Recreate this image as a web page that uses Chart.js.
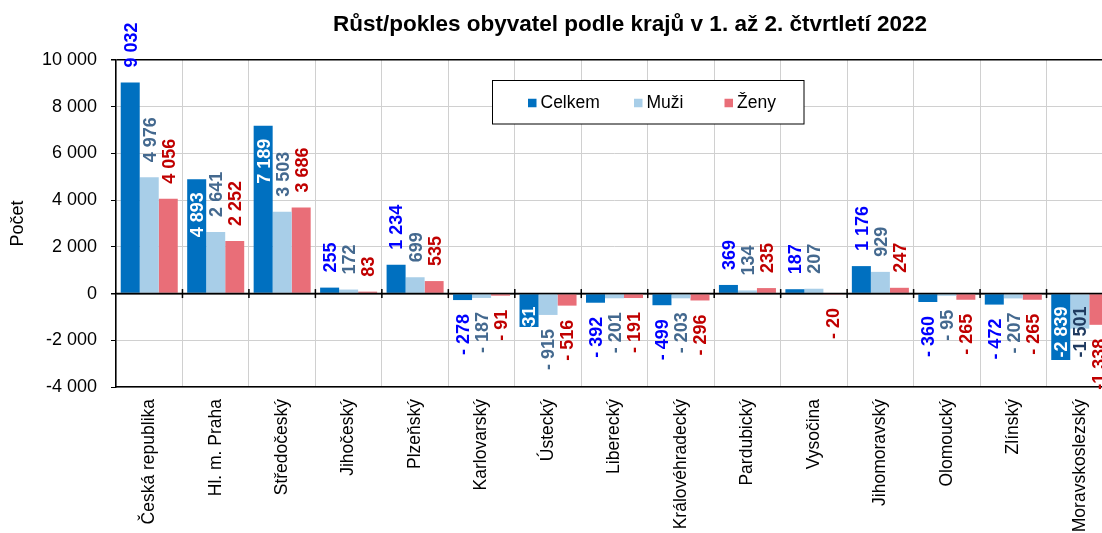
<!DOCTYPE html>
<html><head><meta charset="utf-8">
<script src="https://cdn.jsdelivr.net/npm/chart.js@4.4.1/dist/chart.umd.min.js"></script>
<style>
html,body{margin:0;padding:0;overflow:hidden;background:#fff;width:1102px;height:533px}
#wrap{position:absolute;left:0;top:0;width:1113px;height:533px}
</style>
</head><body>
<div id="wrap"><canvas id="c" width="1113" height="533"></canvas></div>
<script>
const categories = ["Česká republika","Hl. m. Praha","Středočeský","Jihočeský","Plzeňský","Karlovarský","Ústecký","Liberecký","Královéhradecký","Pardubický","Vysočina","Jihomoravský","Olomoucký","Zlínský","Moravskoslezský"];
const celkem = [9032,4893,7189,255,1234,-278,-1431,-392,-499,369,187,1176,-360,-472,-2839];
const muzi   = [4976,2641,3503,172,699,-187,-915,-201,-203,134,207,929,-95,-207,-1501];
const zeny   = [4056,2252,3686,83,535,-91,-516,-191,-296,235,-20,247,-265,-265,-1338];
const seriesNames = ["Celkem","Muži","Ženy"];
const yMin = -4000, yMax = 10000, yStep = 2000;
const titleText = "Růst/pokles obyvatel podle krajů v 1. až 2. čtvrtletí 2022";
const yTitle = "Počet";

const FONT = '"Liberation Sans", Arial, sans-serif';

// label placement overrides: datasetIndex-dataIndex
const labelModes = {"0-1":"insideEnd","0-2":"insideEnd","0-6":"insideBase","0-14":"insideBase","1-14":"insideBase"};
const labelColorOverride = {"1-14":"#1F3A60"};

function group(a){ return String(a).replace(/\B(?=(\d{3})+(?!\d))/g,' '); }
function fmtLabel(v){
  const a = Math.abs(v), s = group(a);
  if (v < 0) return a < 1000 ? '- ' + s : '-' + s;
  return s;
}
function fmtTick(v){ return (v < 0 ? '-' : '') + group(Math.abs(v)); }

const valueLabels = {
  id:'valueLabels',
  afterDatasetsDraw(chart){
    const ctx = chart.ctx;
    const ys = chart.scales.y, xs = chart.scales.x;
    const zeroY = ys.getPixelForValue(0);
    const area = chart.chartArea;
    // axis line at zero, drawn over bars
    ctx.save();
    ctx.strokeStyle = '#000'; ctx.lineWidth = 1.5;
    ctx.beginPath(); ctx.moveTo(area.left, zeroY); ctx.lineTo(area.right, zeroY); ctx.stroke();
    for (let i = 1; i < categories.length; i++) {
      const bx = (xs.getPixelForValue(i-1) + xs.getPixelForValue(i)) / 2;
      ctx.beginPath(); ctx.moveTo(bx, zeroY-4.5); ctx.lineTo(bx, zeroY+4.5); ctx.stroke();
    }
    ctx.restore();

    chart.data.datasets.forEach((ds, di) => {
      const meta = chart.getDatasetMeta(di);
      meta.data.forEach((bar, i) => {
        const v = ds.data[i];
        const key = di + '-' + i;
        const mode = labelModes[key] || 'outside';
        let color = ds.labelColor, y, align;
        if (mode === 'outside') {
          if (v >= 0) { y = bar.y - 15; align = 'left'; }
          else { y = bar.y + 14; align = 'right'; }
        } else if (mode === 'insideEnd') {
          y = bar.y + 13; align = 'right'; color = '#fff';
        } else {
          y = zeroY + 13; align = 'right'; color = labelColorOverride[key] || '#fff';
        }
        ctx.save();
        ctx.font = 'bold 18px ' + FONT;
        ctx.fillStyle = color;
        ctx.textAlign = align;
        ctx.textBaseline = 'alphabetic';
        ctx.translate(bar.x + 6.4, y);
        ctx.rotate(-Math.PI/2);
        ctx.fillText(fmtLabel(v), 0, 0);
        ctx.restore();
      });
    });
  }
};

const boxLegend = {
  id:'boxLegend',
  afterDraw(chart, args, opts){
    const ctx = chart.ctx;
    const b = opts.box;
    ctx.save();
    ctx.fillStyle = '#fff';
    ctx.fillRect(b.x, b.y, b.w, b.h);
    ctx.strokeStyle = '#000'; ctx.lineWidth = 1;
    ctx.strokeRect(b.x, b.y, b.w, b.h);
    ctx.font = '17.5px ' + FONT;
    ctx.textBaseline = 'middle';
    ctx.textAlign = 'left';
    chart.data.datasets.forEach((ds, i) => {
      const x = opts.itemX[i];
      ctx.fillStyle = ds.backgroundColor;
      ctx.fillRect(x, opts.cy - 4.25, 8.5, 8.5);
      ctx.fillStyle = '#000';
      ctx.fillText(ds.label, x + 12.5, opts.cy + 0.5);
    });
    ctx.restore();
  }
};

const titleShift = {
  id:'titleShift',
  afterLayout(chart, args, opts){
    const t = chart.titleBlock;
    if (!t) return;
    const d = opts.centerX - (t.left + t.right) / 2;
    t.left += d; t.right += d;
  }
};

new Chart(document.getElementById('c'), {
  type:'bar',
  data:{
    labels: categories,
    datasets:[
      {label:seriesNames[0], data:celkem, backgroundColor:'#0070C0', labelColor:'#0000FF', categoryPercentage:0.858, barPercentage:1},
      {label:seriesNames[1], data:muzi, backgroundColor:'#A8CEE8', labelColor:'#44698F', categoryPercentage:0.858, barPercentage:1},
      {label:seriesNames[2], data:zeny, backgroundColor:'#E96E78', labelColor:'#C00000', categoryPercentage:0.858, barPercentage:1}
    ]
  },
  plugins:[titleShift, valueLabels, boxLegend],
  options:{
    responsive:false,
    animation:false,
    devicePixelRatio:1,
    layout:{padding:0},
    plugins:{
      legend:{display:false},
      tooltip:{enabled:false},
      title:{display:true, text:titleText, color:'#000', font:{family:FONT, size:22.5, weight:'bold'}, padding:{top:11.5, bottom:21.5}},
      titleShift:{centerX:630},
      boxLegend:{box:{x:492.5, y:80.5, w:311.5, h:43.5}, itemX:[528,634,724.5], cy:103}
    },
    scales:{
      x:{
        offset:true,
        grid:{offset:true, color:'#d0d0d0', lineWidth:1, drawTicks:false},
        border:{color:'#000', width:1.5},
        ticks:{autoSkip:false, minRotation:90, maxRotation:90, padding:12, color:'#000', font:{family:FONT, size:17.5}},
        afterFit(s){ s.height = 146; }
      },
      y:{
        min:yMin, max:yMax,
        ticks:{stepSize:yStep, padding:14, color:'#000', font:{family:FONT, size:18}, callback:v => fmtTick(v)},
        grid:{
          color: c => (c.tick && (c.tick.value === 0 || c.tick.value === yMax)) ? '#000' : '#d0d0d0',
          lineWidth: c => (c.tick && (c.tick.value === 0 || c.tick.value === yMax)) ? 1.5 : 1,
          tickLength:5, tickColor:'#000'
        },
        border:{color:'#000', width:1.5},
        title:{display:true, text:yTitle, color:'#000', font:{family:FONT, size:18}, padding:{top:7, bottom:0}},
        afterFit(s){ s.width = 116; }
      }
    }
  }
});
</script>
</body></html>
